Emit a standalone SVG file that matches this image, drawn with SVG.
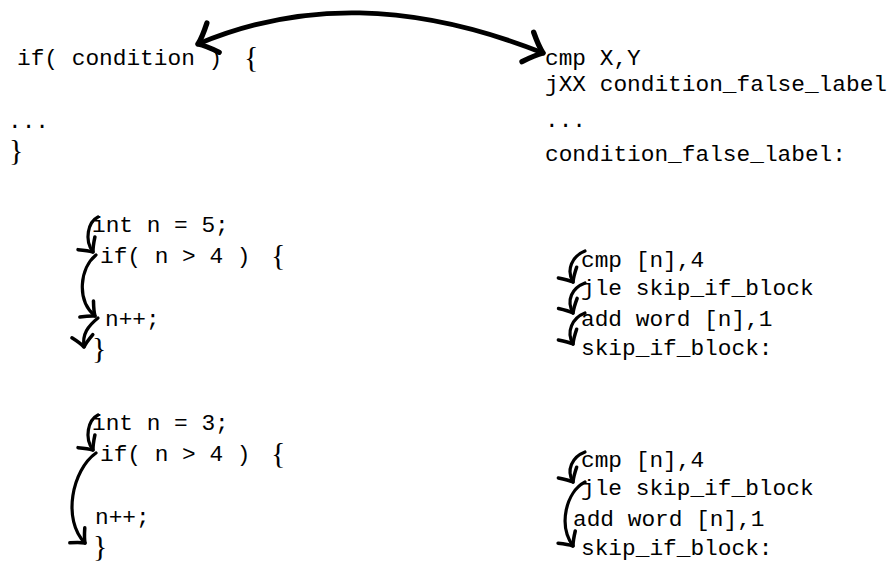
<svg xmlns="http://www.w3.org/2000/svg" width="887" height="565" viewBox="0 0 887 565">
<style>
.m{font-family:"Liberation Mono","DejaVu Sans Mono",monospace;font-size:22.8px;fill:#000}
.r{font-family:"Liberation Serif","DejaVu Serif",serif;font-size:30px;fill:#000}
.c{fill:none;stroke:#000;stroke-linecap:round}
.big{stroke-width:4.8}
.sm{stroke-width:3.2}
</style>
<defs>
<marker id="to" markerUnits="strokeWidth" markerWidth="10" markerHeight="10" viewBox="-5 -5 10 10" refX="0" refY="0" orient="auto-start-reverse">
<path d="M -3.4,-3.3 Q -1.3,-0.9 0,0 Q -1.3,0.9 -3.4,3.3" fill="none" stroke="#000" stroke-width="1.1" stroke-linecap="round" stroke-linejoin="round"/>
</marker>
</defs>
<rect width="887" height="565" fill="#fff"/>
<g id="c-if">
<text class="m" x="17" y="65" xml:space="preserve">if( condition )</text>
<text class="r" x="244" y="67">{</text>
<text class="m" x="8" y="128">...</text>
<text class="r" x="9" y="160">}</text>
</g>
<g id="asm-if">
<text class="m" x="545" y="65">cmp X,Y</text>
<text class="m" x="545" y="91">jXX condition_false_label</text>
<text class="m" x="545" y="127">...</text>
<text class="m" x="545" y="161">condition_false_label:</text>
</g>
<g id="c-true">
<text class="m" x="92" y="232" xml:space="preserve">int n = 5;</text>
<text class="m" x="100" y="263" xml:space="preserve">if( n &gt; 4 )</text>
<text class="r" x="271" y="265">{</text>
<text class="m" x="105" y="326">n++;</text>
<text class="r" x="92" y="358">}</text>
</g>
<g id="asm-true">
<text class="m" x="581" y="267">cmp [n],4</text>
<text class="m" x="581" y="295">jle skip_if_block</text>
<text class="m" x="581" y="326">add word [n],1</text>
<text class="m" x="581" y="355">skip_if_block:</text>
</g>
<g id="c-false">
<text class="m" x="92" y="430" xml:space="preserve">int n = 3;</text>
<text class="m" x="100" y="461" xml:space="preserve">if( n &gt; 4 )</text>
<text class="r" x="271" y="463">{</text>
<text class="m" x="95" y="524">n++;</text>
<text class="r" x="93" y="556">}</text>
</g>
<g id="asm-false">
<text class="m" x="581" y="467">cmp [n],4</text>
<text class="m" x="581" y="495">jle skip_if_block</text>
<text class="m" x="573" y="526">add word [n],1</text>
<text class="m" x="581" y="555">skip_if_block:</text>
</g>
<g id="connectors">
<path class="c big" d="M 198,44 C 300,1 412,1 543,53" marker-start="url(#to)" marker-end="url(#to)"/>
<path class="c sm" d="M 98,217 C 88,222 84,240 93,252" marker-end="url(#to)"/>
<path class="c sm" d="M 96,255 C 80,268 76,300 95,316" marker-end="url(#to)"/>
<path class="c sm" d="M 98,318 C 88,326 82,334 84,347" marker-end="url(#to)"/>
<path class="c sm" d="M 98,415 C 88,420 84,438 93,450" marker-end="url(#to)"/>
<path class="c sm" d="M 96,453 C 72,470 62,520 85,543" marker-end="url(#to)"/>
<path class="c sm" d="M 585,251 C 572,256 566,270 573,282" marker-end="url(#to)"/>
<path class="c sm" d="M 585,283 C 572,288 566,300 573,313" marker-end="url(#to)"/>
<path class="c sm" d="M 585,313 C 572,318 566,332 573,344" marker-end="url(#to)"/>
<path class="c sm" d="M 585,452 C 572,457 566,470 573,482" marker-end="url(#to)"/>
<path class="c sm" d="M 585,482 C 566,492 558,525 573,546" marker-end="url(#to)"/>
</g>
</svg>
